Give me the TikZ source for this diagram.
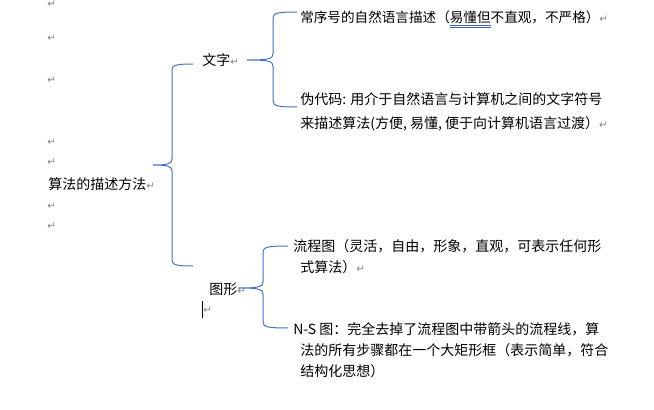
\documentclass[tikz,border=0pt]{standalone}
\usepackage{fontspec}
\setmainfont{Noto Sans CJK SC}
\newfontfamily\markfont{DejaVu Sans}
\usepackage{tikz}
\usetikzlibrary{calc}

\definecolor{braceblue}{RGB}{68,114,196}
\definecolor{markgray}{RGB}{135,135,135}
\definecolor{checkblue}{RGB}{60,95,200}

% paragraph mark and grammar double underline
\newcommand{\pmark}{{\color{markgray}\markfont\fontsize{7.8}{8}\selectfont ↵}}
\newsavebox\chkbox
\newcommand{\chk}[1]{\sbox\chkbox{#1}\rlap{\color{checkblue}\rule[-2.4pt]{\wd\chkbox}{0.35pt}}\rlap{\color{checkblue}\rule[-3.6pt]{\wd\chkbox}{0.35pt}}\usebox\chkbox}

% brace from #1-top over the spine #1-sp to #1-tip and down to #1-bot
\newcommand{\wordbrace}[1]{%
\draw[brace] (#1-top) .. controls ($(#1-sp |- #1-top)+(5,0)$) and ($(#1-sp |- #1-top)+(0,1)$) .. ($(#1-sp |- #1-top)+(0,6)$)
  -- ($(#1-sp)+(0,-6)$) .. controls ($(#1-sp)+(0,-1)$) and ($(#1-sp)+(-5,0)$) .. (#1-tip)
  .. controls ($(#1-sp)+(-5,0)$) and ($(#1-sp)+(0,1)$) .. ($(#1-sp)+(0,6)$)
  -- ($(#1-sp |- #1-bot)+(0,-6)$) .. controls ($(#1-sp |- #1-bot)+(0,-1)$) and ($(#1-sp |- #1-bot)+(5,0)$) .. (#1-bot);}

\tikzset{
  brace/.style={draw=braceblue, line width=0.75pt},
  txt/.style={inner sep=0pt, align=left, font=\fontsize{10.5}{15.75}\selectfont},
  pmk/.style={inner sep=0pt, anchor=west}
}

\begin{document}
\begin{tikzpicture}[x=0.75pt,y=0.75pt,yscale=-1,xscale=1]
\useasboundingbox (0,0) rectangle (654,410);
\clip (0,0) rectangle (654,410);

%Empty paragraphs
\foreach \y [count=\i] in {4,38,80,142,162,206,226}
  \node[pmk] (mark\i) at (47,\y) {\pmark};

%Text Nodes
\node[txt, anchor=west] (root) at (48,184) {算法的描述方法\pmark};
\node[txt, anchor=west] (wz) at (202,60) {文字\pmark};
\node[txt, anchor=west] (tx) at (209,289) {图形\pmark};
\node[txt, anchor=west, font=\fontsize{10.2}{15}\selectfont] (wz-a) at (300,19) {常序号的自然语言描述（\chk{易懂但}不直观，不严格）\pmark};
\node[txt, anchor=north west] (wz-b) at (300,92.5) {伪代码: 用介于自然语言与计算机之间的文字符号\\[2.2pt]来描述算法(方便, 易懂, 便于向计算机语言过渡）\pmark};
\node[txt, anchor=north west] (tx-a) at (293,239.5) {流程图（灵活，自由，形象，直观，可表示任何形\\\hspace*{5.25pt}式算法）\pmark};
\node[txt, anchor=north west] (tx-b) at (293,322.5) {N-S 图：完全去掉了流程图中带箭头的流程线，算\\\hspace*{5.25pt}法的所有步骤都在一个大矩形框（表示简单，符合\\\hspace*{5.25pt}结构化思想）};

%Brace points
\coordinate (root-tip) at (153,165);
\coordinate (root-sp) at (172,165);
\coordinate (root-top) at (193,64);
\coordinate (root-bot) at (193,266);
\coordinate (wz-tip) at (247,60);
\coordinate (wz-sp) at (273,60);
\coordinate (wz-top) at (297,12);
\coordinate (wz-bot) at (297,107);
\coordinate (tx-tip) at (238,288);
\coordinate (tx-sp) at (263,288);
\coordinate (tx-top) at (288,246);
\coordinate (tx-bot) at (288,328);

%Braces
\foreach \b in {root,wz,tx}
  {\wordbrace{\b}}

%Cursor
\draw[line width=0.7pt] (202,301) -- (202,318);
\node[pmk] (mark8) at (203,310) {\pmark};

\end{tikzpicture}
\end{document}
